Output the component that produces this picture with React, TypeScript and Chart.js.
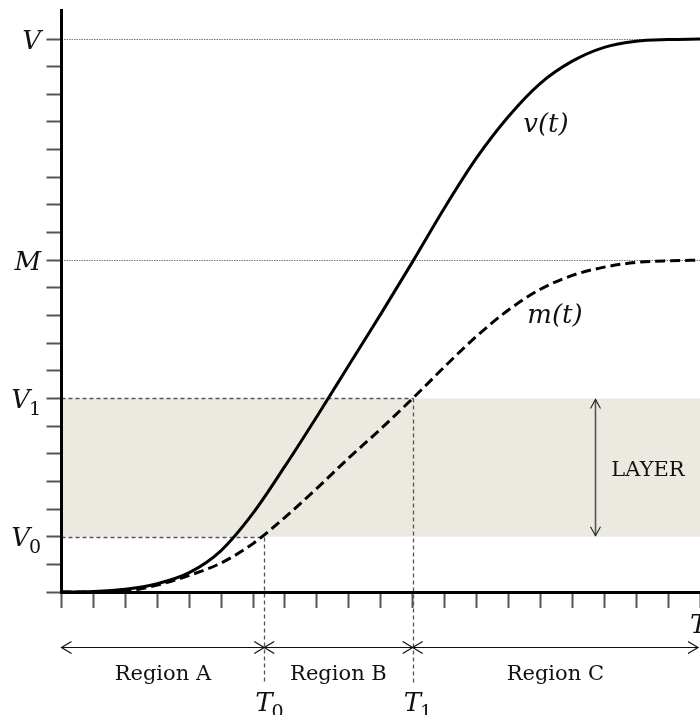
import React, { useEffect, useRef } from 'react';
import { Chart, registerables } from 'chart.js';

Chart.register(...registerables);

// ---- data ----
const timeSteps = [0, 1, 2, 3, 4, 5, 6, 7, 8, 9, 10, 11, 12, 13, 14, 15, 16, 17, 18, 19, 20];
const vSeries = [0, 0.02, 0.1, 0.3, 0.7, 1.5, 2.85, 4.55, 6.35, 8.2, 10.05, 11.95, 13.9, 15.7, 17.2, 18.4, 19.2, 19.7, 19.92, 19.98, 20];
const mSeries = [0, 0, 0.03, 0.25, 0.6, 1.05, 1.75, 2.7, 3.75, 4.85, 5.9, 7.0, 8.15, 9.25, 10.2, 10.95, 11.45, 11.75, 11.92, 11.98, 12];
const xTickValues = [0, 1, 2, 3, 4, 5, 6, 7, 8, 9, 10, 11, 12, 13, 14, 15, 16, 17, 18, 19, 20];
const yTickValues = [0, 1, 2, 3, 4, 5, 6, 7, 8, 9, 10, 11, 12, 13, 14, 15, 16, 17, 18, 19, 20];
const levelValues = [20, 12, 7, 2];
const levelNames = ['V', 'M', 'V', 'V'];
const levelSubs = ['', '', '1', '0'];
const boundaryTimes = [6.35, 11.0];
const boundaryNames = ['T', 'T'];
const boundarySubs = ['0', '1'];
const regionNames = ['Region A', 'Region B', 'Region C'];
const seriesNames = ['v', 'm'];
const layerName = 'LAYER';
const axisName = 'T';
const layerArrowTime = 16.7;
const X_MAX = 20;
const Y_MAX = 21.05;

const SERIF = '"DejaVu Serif", "Liberation Serif", serif';
const INK = '#111';

function drawMath(ctx: CanvasRenderingContext2D, main: string, sub: string, x: number, baseline: number, size: number, align: 'left' | 'right') {
  ctx.save();
  ctx.textBaseline = 'alphabetic';
  ctx.textAlign = 'left';
  ctx.fillStyle = INK;
  ctx.font = `italic ${size}px ${SERIF}`;
  const wMain = ctx.measureText(main).width;
  const subSize = Math.round(size * 0.72);
  ctx.font = `${subSize}px ${SERIF}`;
  const wSub = sub ? ctx.measureText(sub).width : 0;
  const total = wMain + (sub ? wSub - 1 : 0);
  const start = align === 'right' ? x - total : x;
  ctx.font = `italic ${size}px ${SERIF}`;
  ctx.fillText(main, start, baseline);
  if (sub) {
    ctx.font = `${subSize}px ${SERIF}`;
    ctx.fillText(sub, start + wMain - 1, baseline + size * 0.28);
  }
  ctx.restore();
}

function arrowHead(ctx: CanvasRenderingContext2D, tipX: number, tipY: number, dirX: number, dirY: number, len: number, half: number) {
  const px = -dirY;
  const py = dirX;
  ctx.beginPath();
  ctx.moveTo(tipX - dirX * len + px * half, tipY - dirY * len + py * half);
  ctx.lineTo(tipX, tipY);
  ctx.lineTo(tipX - dirX * len - px * half, tipY - dirY * len - py * half);
  ctx.stroke();
}

const annotations = {
  id: 'annotations',
  beforeDatasetsDraw(chart: any) {
    const { ctx, chartArea: a, scales } = chart;
    const xs = scales.x;
    const ys = scales.y;
    const yLow = ys.getPixelForValue(levelValues[3]);
    const yHigh = ys.getPixelForValue(levelValues[2]);
    ctx.save();
    ctx.fillStyle = '#ECE9E0';
    ctx.fillRect(a.left, yHigh, a.right - a.left, yLow - yHigh);
    ctx.strokeStyle = '#777';
    ctx.lineWidth = 1;
    ctx.setLineDash([1.5, 1]);
    [levelValues[0], levelValues[1]].forEach((v) => {
      const y = Math.round(ys.getPixelForValue(v)) + 0.5;
      ctx.beginPath();
      ctx.moveTo(a.left, y);
      ctx.lineTo(a.right, y);
      ctx.stroke();
    });
    ctx.strokeStyle = '#555';
    ctx.lineWidth = 1.3;
    ctx.setLineDash([4, 3]);
    const pairs = [
      [levelValues[3], boundaryTimes[0]],
      [levelValues[2], boundaryTimes[1]],
    ];
    pairs.forEach(([v, t]) => {
      const y = Math.round(ys.getPixelForValue(v)) + 0.5;
      const x = Math.round(xs.getPixelForValue(t)) + 0.5;
      ctx.beginPath();
      ctx.moveTo(a.left, y);
      ctx.lineTo(x, y);
      ctx.stroke();
      ctx.beginPath();
      ctx.moveTo(x, y);
      ctx.lineTo(x, a.bottom + 91);
      ctx.stroke();
    });
    ctx.restore();
  },
  afterDraw(chart: any) {
    const { ctx, chartArea: a, scales } = chart;
    const xs = scales.x;
    const ys = scales.y;
    ctx.save();
    levelValues.forEach((v, i) => {
      const y = ys.getPixelForValue(v);
      drawMath(ctx, levelNames[i], levelSubs[i], 41, y + 9.5, 26, 'right');
    });
    boundaryTimes.forEach((t, i) => {
      const x = xs.getPixelForValue(t);
      drawMath(ctx, boundaryNames[i], boundarySubs[i], x - 9, a.bottom + 119, 26, 'left');
    });
    drawMath(ctx, axisName, '', a.right - 10, a.bottom + 41, 26, 'left');

    ctx.fillStyle = INK;
    ctx.textAlign = 'center';
    ctx.textBaseline = 'alphabetic';
    ctx.font = `italic 26px ${SERIF}`;
    ctx.fillText(`${seriesNames[0]}(t)`, 546, 132);
    ctx.fillText(`${seriesNames[1]}(t)`, 555, 323);

    const yArr = a.bottom + 55;
    const xEdges = [a.left, xs.getPixelForValue(boundaryTimes[0]), xs.getPixelForValue(boundaryTimes[1]), a.right - 2];
    ctx.strokeStyle = INK;
    ctx.lineWidth = 1.2;
    for (let i = 0; i < 3; i++) {
      const x1 = xEdges[i];
      const x2 = xEdges[i + 1];
      ctx.beginPath();
      ctx.moveTo(x1, yArr + 0.5);
      ctx.lineTo(x2, yArr + 0.5);
      ctx.stroke();
      arrowHead(ctx, x1, yArr + 0.5, -1, 0, 10, 6);
      arrowHead(ctx, x2, yArr + 0.5, 1, 0, 10, 6);
      ctx.font = `21px ${SERIF}`;
      ctx.textAlign = 'center';
      ctx.fillStyle = INK;
      ctx.fillText(regionNames[i], (x1 + x2) / 2, a.bottom + 88);
    }

    const xl = Math.round(xs.getPixelForValue(layerArrowTime)) + 0.5;
    const yTop = ys.getPixelForValue(levelValues[2]);
    const yBot = ys.getPixelForValue(levelValues[3]);
    ctx.strokeStyle = '#555';
    ctx.lineWidth = 1.6;
    ctx.beginPath();
    ctx.moveTo(xl, yTop + 1);
    ctx.lineTo(xl, yBot - 1);
    ctx.stroke();
    ctx.strokeStyle = '#222';
    ctx.lineWidth = 1.1;
    arrowHead(ctx, xl, yTop + 1, 0, -1, 9, 5);
    arrowHead(ctx, xl, yBot - 1, 0, 1, 9, 5);
    ctx.fillStyle = INK;
    ctx.font = `21px ${SERIF}`;
    ctx.textAlign = 'center';
    ctx.fillText(layerName, 648, (yTop + yBot) / 2 + 8);
    ctx.restore();
  },
};

export default function App() {
  const ref = useRef<HTMLCanvasElement | null>(null);
  useEffect(() => {
    if (!ref.current) return;
    const chart = new Chart(ref.current, {
      type: 'line',
      data: {
        datasets: [
          {
            label: 'v(t)',
            data: timeSteps.map((t, i) => ({ x: t, y: vSeries[i] })),
            borderColor: '#000',
            borderWidth: 3,
            pointRadius: 0,
            cubicInterpolationMode: 'monotone',
            fill: false,
          },
          {
            label: 'm(t)',
            data: timeSteps.map((t, i) => ({ x: t, y: mSeries[i] })),
            borderColor: '#000',
            borderWidth: 3,
            borderDash: [10, 5],
            pointRadius: 0,
            cubicInterpolationMode: 'monotone',
            fill: false,
          },
        ],
      },
      options: {
        animation: false,
        responsive: false,
        maintainAspectRatio: false,
        layout: { padding: { top: 10, right: 0, left: 0, bottom: 0 } },
        plugins: { legend: { display: false }, tooltip: { enabled: false } },
        events: [],
        scales: {
          x: {
            type: 'linear',
            min: 0,
            max: X_MAX,
            afterBuildTicks: (s: any) => {
              s.ticks = xTickValues.map((v) => ({ value: v }));
            },
            afterFit: (s: any) => {
              s.height = 123;
            },
            ticks: { display: false },
            grid: { display: true, drawOnChartArea: false, drawTicks: true, tickLength: 16, tickColor: '#555', tickWidth: 2 },
            border: { display: true, color: '#000', width: 3, z: 1 },
          },
          y: {
            type: 'linear',
            min: 0,
            max: Y_MAX,
            afterBuildTicks: (s: any) => {
              s.ticks = yTickValues.map((v) => ({ value: v }));
            },
            afterFit: (s: any) => {
              s.width = 61.5;
            },
            ticks: { display: false },
            grid: { display: true, drawOnChartArea: false, drawTicks: true, tickLength: 15, tickColor: '#555', tickWidth: 2 },
            border: { display: true, color: '#000', width: 3, z: 1 },
          },
        },
      },
      plugins: [annotations],
    } as any);
    return () => chart.destroy();
  }, []);
  return (
    <div style={{ position: 'absolute', left: 0, top: 0, width: 700, height: 715, background: '#fff' }}>
      <canvas ref={ref} width={700} height={715} style={{ display: 'block', width: 700, height: 715 }} />
    </div>
  );
}
